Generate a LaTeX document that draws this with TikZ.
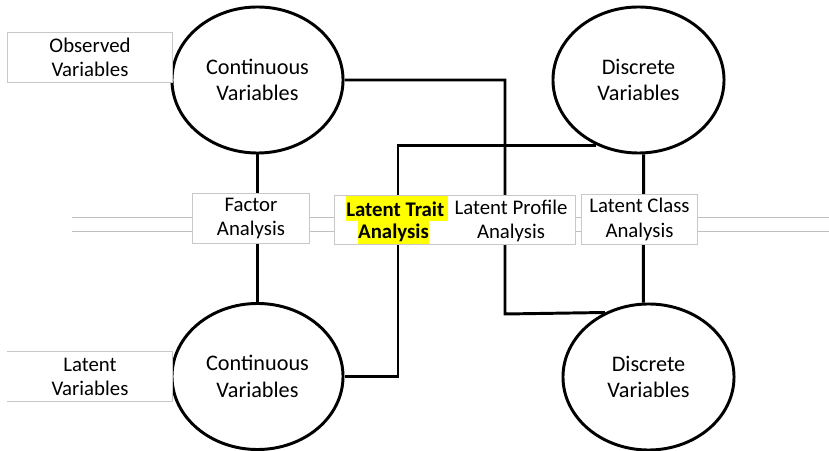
\documentclass[tikz,border=0pt]{standalone}
\usepackage{fontspec}
\setmainfont{Carlito}
\usetikzlibrary{shapes.geometric, backgrounds}
\usepackage{xcolor}
\definecolor{rulegray}{HTML}{BFBFBF}
\definecolor{framegray}{HTML}{C8C8C8}
\definecolor{hlyellow}{HTML}{FFFF00}

\begin{document}
\begin{tikzpicture}[
    x=0.025cm, y=-0.025cm,
    var/.style={draw, ellipse, line width=2.1pt, fill=white, inner sep=0pt, minimum width=4.275cm, minimum height=3.65cm, align=center, font=\fontsize{15.8}{18.8}\selectfont},
    lbl/.style={draw=framegray, line width=0.7pt, fill=white, inner sep=0pt, minimum width=2.9cm, minimum height=1.225cm, align=center, font=\fontsize{14.8}{17.2}\selectfont},
    conn/.style={line width=2.1pt, line join=miter},
    rail/.style={draw=rulegray, line width=0.7pt},
    hl/.style={fill=hlyellow, inner sep=0pt, font=\fontsize{14.8}{17.2}\selectfont\bfseries},
]
\useasboundingbox (0,0) rectangle (829,451);

% the four kinds of variables
\node[var] (tl) at (257.5,80) {Continuous\\Variables};
\node[var] (tr) at (638.5,80) {Discrete\\Variables};
\node[var] (bl) at (257.5,376.5) {Continuous\\Variables};
\node[var] (br) at (648.5,377) {Discrete\\Variables};

% row labels
\node[lbl, minimum width=4.1cm] (obs) at (90,57.5) {Observed\\Variables};
\node[lbl, draw=none, minimum width=4.1cm] (lat) at (90,376.5) {Latent\\Variables};
\draw[framegray, line width=0.7pt] (lat.north west) -- (lat.north east) -- (lat.south east) -- (lat.south west);

% the analyses
\node[lbl] (fa) at (251,218.5) {Factor\\Analysis};
\node[lbl, minimum width=6cm, minimum height=1.2cm] (lpbox) at (455,220) {};
\node[hl, anchor=north west, minimum height=0.625cm] (trait) at (346,196) {Latent Trait\kern0.1cm};
\node[hl, anchor=north, minimum height=0.575cm] (traitb) at (393.5,221) {Analysis};
\node[align=center, inner sep=0pt, font=\fontsize{14.8}{17.2}\selectfont] (lpa) at (511,221) {Latent Profile\\Analysis};
\node[lbl, minimum width=2.875cm] (lca) at (639.5,219.5) {Latent Class\\Analysis};

\coordinate (bendA) at (398,376.5);
\coordinate (bendB) at (505,314);

\begin{scope}[on background layer]
    \draw[rail] (72,217.7) -- (829,217.7);
    \draw[rail] (72,231) -- (829,231);
    \draw[conn] (tl.south) -- (bl.north);
    \draw[conn] (tr.-86) -- (br.94);
    \draw[conn] (tl.east) -| (bendB) -- (br.124.4);
    \draw[conn] (tr.237) -| (bendA) -- (bl.east);
\end{scope}
\end{tikzpicture}
\end{document}
